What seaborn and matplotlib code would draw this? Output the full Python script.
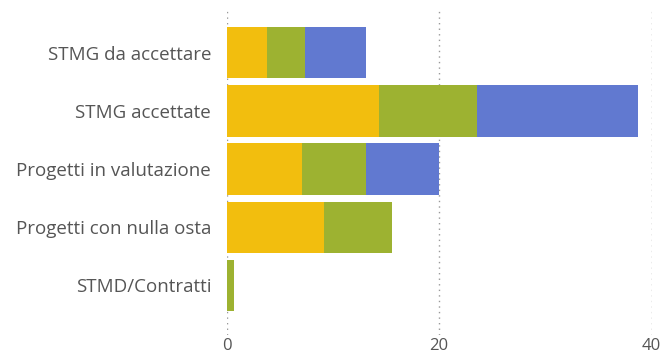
import matplotlib
matplotlib.use("Agg")
import matplotlib.pyplot as plt
import seaborn as sns
import pandas as pd
import numpy as np

categories = ["STMG da accettare", "STMG accettate", "Progetti in valutazione",
              "Progetti con nulla osta", "STMD/Contratti"]
serie_gialla = [3.8, 14.3, 7.1, 9.2, 0.0]
serie_verde = [3.6, 9.3, 6.0, 6.4, 0.7]
serie_blu = [5.7, 15.1, 6.9, 0.0, 0.0]
x_ticks = [0, 20, 40]

colors = ["#F2BE0E", "#9DB231", "#6179D0"]

sns.set_theme(style="white")
plt.rcParams['font.family'] = ['Open Sans', 'DejaVu Sans']

g = np.array(serie_gialla)
v = np.array(serie_verde)
b = np.array(serie_blu)
df = pd.DataFrame({
    "cat": categories,
    "c1": g,
    "c2": g + v,
    "c3": g + v + b,
})

fig = plt.figure(figsize=(6.62, 3.59), dpi=100)
ax = fig.add_axes([226.5 / 662, 24 / 359, (651.7 - 226.5) / 662, 325 / 359])

for tx in x_ticks:
    ax.axvline(tx, color="#999999", linestyle=(0, (1, 3)), linewidth=1.0, zorder=0)

for col, c in zip(["c3", "c2", "c1"], colors[::-1]):
    sns.barplot(data=df, x=col, y="cat", color=c, orient="h", width=0.88,
                saturation=1, ax=ax, zorder=2, linewidth=0)

ax.set_xlim(0, 40)
ax.set_ylim(4.86, -0.74)
ax.set_xticks(x_ticks)
ax.set_xticklabels([str(t) for t in x_ticks])
ax.set_xlabel("")
ax.set_ylabel("")
for s in ax.spines.values():
    s.set_visible(False)
ax.tick_params(axis="y", length=0, colors="#555555", labelsize=13.5, pad=11)
ax.tick_params(axis="x", length=0, colors="#555555", labelsize=12, pad=2)
ax.grid(False)

fig.savefig("out.png", dpi=100)
